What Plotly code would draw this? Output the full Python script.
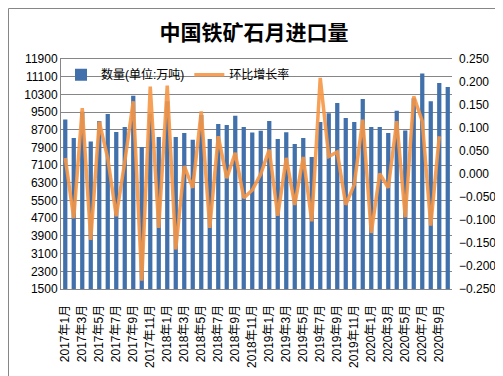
import plotly.graph_objects as go

months = [f"{y}年{m}月" for y in range(2017, 2021) for m in range(1, 13)][:46]

volume = [9160, 8330, 9520, 8170, 9100, 9410, 8600, 8830, 10240, 7920, 9430, 8375,
          9990, 8370, 8550, 8250, 9370, 8280, 8960, 8920, 9330, 8830, 8580, 8660,
          9100, 8280, 8590, 8060, 8330, 7470, 9050, 9450, 9910, 9235, 9050, 10095,
          8820, 8826, 8554, 9560, 8670, 10130, 11240, 9990, 10815, 10634]

growth = [0.035, -0.096, 0.143, -0.143, 0.114, 0.034, -0.092, 0.026, 0.158, -0.232, 0.190, -0.117,
          0.192, -0.164, 0.017, -0.030, 0.136, -0.117, 0.082, -0.009, 0.046, -0.052, -0.035, 0.000,
          0.053, -0.091, 0.035, -0.067, 0.037, -0.103, 0.209, 0.038, 0.048, -0.067, -0.023, 0.118,
          -0.128, 0.001, -0.030, 0.115, -0.094, 0.169, 0.115, -0.112, 0.082, None]

left_ticks = list(range(1500, 11901, 800))
right_ticks = [round(-0.25 + 0.05 * i, 3) for i in range(11)]
shown_labels = months[::2]

num_font = "Liberation Sans, Noto Sans CJK SC, sans-serif"

fig = go.Figure()
fig.add_trace(go.Bar(x=months, y=volume, name="数量(单位:万吨)",
                     marker=dict(color="#4170AB", line=dict(width=0))))
fig.add_trace(go.Scatter(x=months, y=growth, name="环比增长率", yaxis="y2",
                         mode="lines", line=dict(color="#F79646", width=3.5),
                         opacity=0.9, connectgaps=False))

W, H = 503, 376
L, R, T, B = 53, 444, 51, 281
pw, ph = R - L, B - T

def px(x):
    return (x - L) / pw

def py(y):
    return (B - y) / ph

fig.update_layout(
    width=W, height=H,
    margin=dict(l=L, r=W - R, t=T, b=H - B),
    paper_bgcolor="white", plot_bgcolor="white",
    bargap=0.5,
    showlegend=True,
    legend=dict(orientation="h", x=0.0, y=0.995, xanchor="left", yanchor="top",
                bgcolor="rgba(0,0,0,0)", font=dict(size=12, family=num_font, color="#000"),
                itemwidth=30, tracegroupgap=0),
    title=dict(text="<b>中国铁矿石月进口量</b>", x=246 / W, xanchor="center", y=1 - 25 / H, yanchor="middle",
               font=dict(size=21, family="Noto Sans CJK SC", color="#000")),
    font=dict(family=num_font, size=12, color="#000"),
    xaxis=dict(type="category", tickmode="array", tickvals=shown_labels, ticktext=shown_labels,
               tickangle=-90, tickfont=dict(size=12, family=num_font), showgrid=False,
               showline=True, linecolor="#868686", linewidth=1, mirror=True,
               ticks="", ticklabelstandoff=10),
    yaxis=dict(range=[1500, 11900], tickmode="array", tickvals=left_ticks, tickformat="d",
               showgrid=True, gridcolor="#868686", gridwidth=1, zeroline=False,
               showline=True, linecolor="#868686", linewidth=1, ticks="",
               tickfont=dict(size=12, family=num_font)),
    yaxis2=dict(range=[-0.25, 0.25], overlaying="y", side="right", tickmode="array",
                tickvals=right_ticks, tickformat=".3f", showgrid=False, zeroline=False,
                showline=False, ticks="", tickfont=dict(size=12, family=num_font),
                ticklabelstandoff=6),
    shapes=[dict(type="rect", xref="paper", yref="paper",
                 x0=px(0.5), x1=px(501.5), y0=py(374), y1=py(0.5),
                 line=dict(color="#868686", width=1), fillcolor="rgba(0,0,0,0)", layer="below")],
)

fig.write_html("out.html")
